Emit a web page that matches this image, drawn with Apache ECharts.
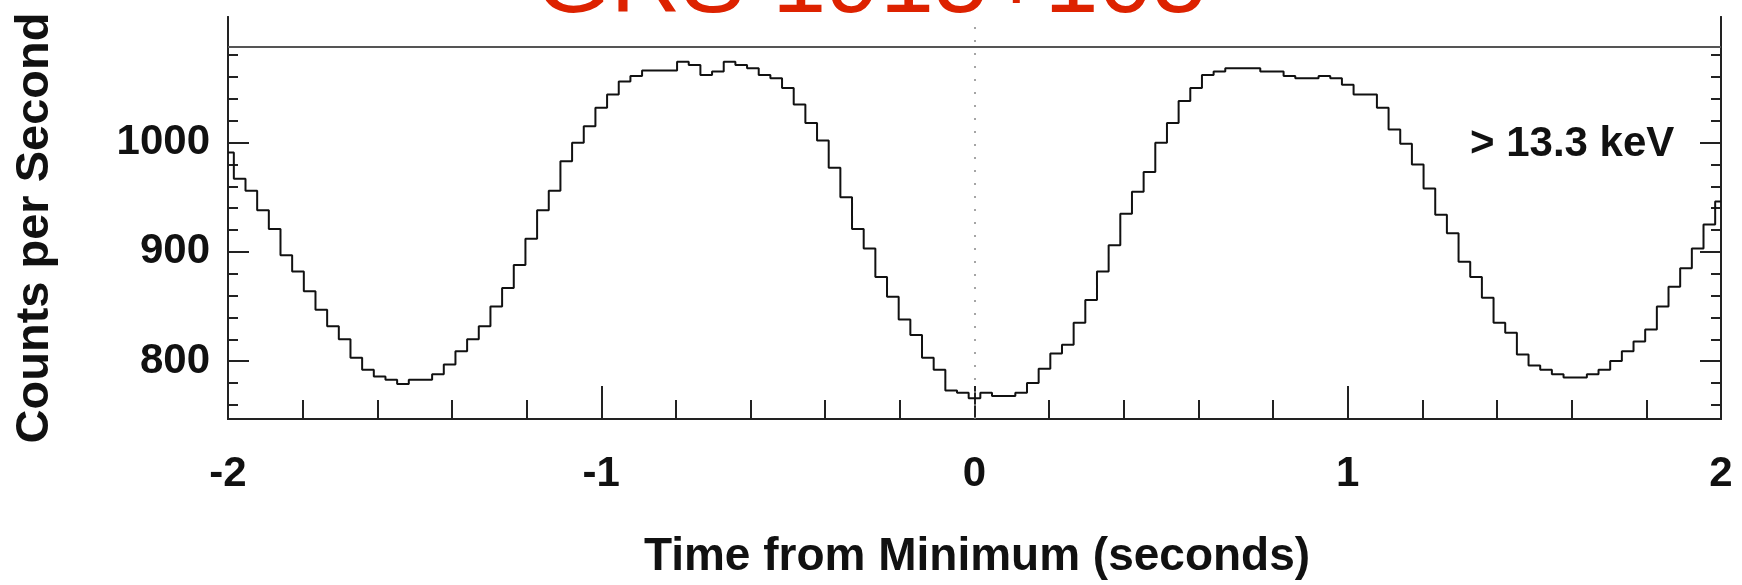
<!DOCTYPE html>
<html>
<head>
<meta charset="utf-8">
<script src="https://cdn.jsdelivr.net/npm/echarts@6/dist/echarts.min.js"></script>
<style>
  html, body { margin: 0; padding: 0; background: #fff; }
  #chart { width: 1742px; height: 585px; }
</style>
</head>
<body>
<div id="chart"></div>
<script>
// folded light curve, 1/32 s bins centred on -2 .. 2 s
var startTime = -2;
var binWidth = 1 / 32;
var counts = [
  991, 967, 956, 938, 921, 897, 882, 864, 847, 832, 820, 803, 792, 786, 783, 779,
  783, 783, 788, 797, 809, 820, 832, 850, 867, 888, 912, 938, 956, 983, 1000, 1015,
  1032, 1044, 1056, 1061, 1066, 1066, 1066, 1074, 1071, 1062, 1065, 1074, 1071, 1068, 1062, 1059,
  1050, 1035, 1018, 1002, 977, 950, 921, 903, 877, 859, 838, 824, 803, 792, 773, 771,
  766, 771, 768, 768, 771, 780, 793, 807, 815, 835, 856, 882, 906, 935, 955, 973,
  1000, 1018, 1038, 1050, 1062, 1065, 1068, 1068, 1068, 1065, 1065, 1061, 1059, 1059, 1061, 1059,
  1053, 1044, 1044, 1032, 1012, 999, 980, 958, 934, 917, 891, 877, 858, 835, 826, 806,
  796, 792, 788, 785, 785, 788, 792, 800, 809, 818, 829, 850, 868, 885, 903, 925,
  946
];
var majorY = [800, 900, 1000];
var minorY = [760, 780, 800, 820, 840, 860, 880, 900, 920, 940, 960, 980, 1000, 1020, 1040, 1060, 1080];
var topLine = 1088;

var font = '"Liberation Sans", Arial, Helvetica, sans-serif';
var axisColor = '#222';

var chart = echarts.init(document.getElementById('chart'), null, { renderer: 'canvas' });

var points = counts.map(function (c, i) {
  return [startTime + i * binWidth, c];
});

function yAxisDef(position, major, labels) {
  return {
    type: 'value',
    position: position,
    min: 747,
    max: 1115,
    axisLine: { show: true, onZero: false, lineStyle: { color: axisColor, width: 2 } },
    axisTick: {
      show: true,
      inside: true,
      length: major ? 21 : 10,
      customValues: major ? majorY : minorY,
      lineStyle: { color: axisColor, width: 2 }
    },
    axisLabel: {
      show: labels,
      customValues: majorY,
      formatter: function (v) { return String(v); },
      margin: 18,
      color: '#111',
      fontSize: 42,
      fontWeight: 'bold',
      fontFamily: font
    },
    splitLine: { show: false }
  };
}

var option = {
  animation: false,
  backgroundColor: '#fff',
  grid: {
    left: 228,
    right: 21,
    top: 17,
    bottom: 166,
    containLabel: false,
    outerBoundsMode: 'none'
  },
  xAxis: {
    type: 'value',
    min: -2,
    max: 2,
    interval: 1,
    axisLine: { show: true, onZero: false, lineStyle: { color: axisColor, width: 2 } },
    axisTick: { show: true, inside: true, length: 33, lineStyle: { color: axisColor, width: 2 } },
    minorTick: { show: true, splitNumber: 5, length: 19, lineStyle: { color: axisColor, width: 2 } },
    axisLabel: {
      margin: 34,
      color: '#111',
      fontSize: 42,
      fontWeight: 'bold',
      fontFamily: font
    },
    splitLine: { show: false }
  },
  yAxis: [
    yAxisDef('left', true, true),
    yAxisDef('left', false, false),
    yAxisDef('right', true, false),
    yAxisDef('right', false, false)
  ],
  series: [
    {
      type: 'line',
      step: 'middle',
      symbol: 'none',
      data: points,
      lineStyle: { color: '#111', width: 2 },
      markLine: {
        silent: true,
        symbol: 'none',
        label: { show: false },
        data: [
          { yAxis: topLine, lineStyle: { color: '#555', width: 2, type: 'solid' } },
          { xAxis: 0, lineStyle: { color: '#888', width: 1.5, type: [2, 11] } }
        ]
      }
    }
  ],
  graphic: [
    {
      type: 'text',
      x: 535,
      y: -15,
      style: {
        text: 'GRS 1915+105',
        fill: '#dd2200',
        font: 'normal 97px ' + font,
        align: 'left',
        verticalAlign: 'middle'
      }
    },
    {
      type: 'text',
      x: 1470,
      y: 144,
      style: {
        text: '> 13.3 keV',
        fill: '#111',
        font: 'bold 42px ' + font,
        align: 'left',
        verticalAlign: 'middle'
      }
    },
    {
      type: 'text',
      x: 977,
      y: 557,
      style: {
        text: 'Time from Minimum (seconds)',
        fill: '#111',
        font: 'bold 46px ' + font,
        align: 'center',
        verticalAlign: 'middle'
      }
    },
    {
      type: 'text',
      x: 35,
      y: 228,
      rotation: Math.PI / 2,
      style: {
        text: 'Counts per Second',
        fill: '#111',
        font: 'bold 47px ' + font,
        align: 'center',
        verticalAlign: 'middle'
      }
    }
  ]
};

chart.setOption(option);
</script>
</body>
</html>
